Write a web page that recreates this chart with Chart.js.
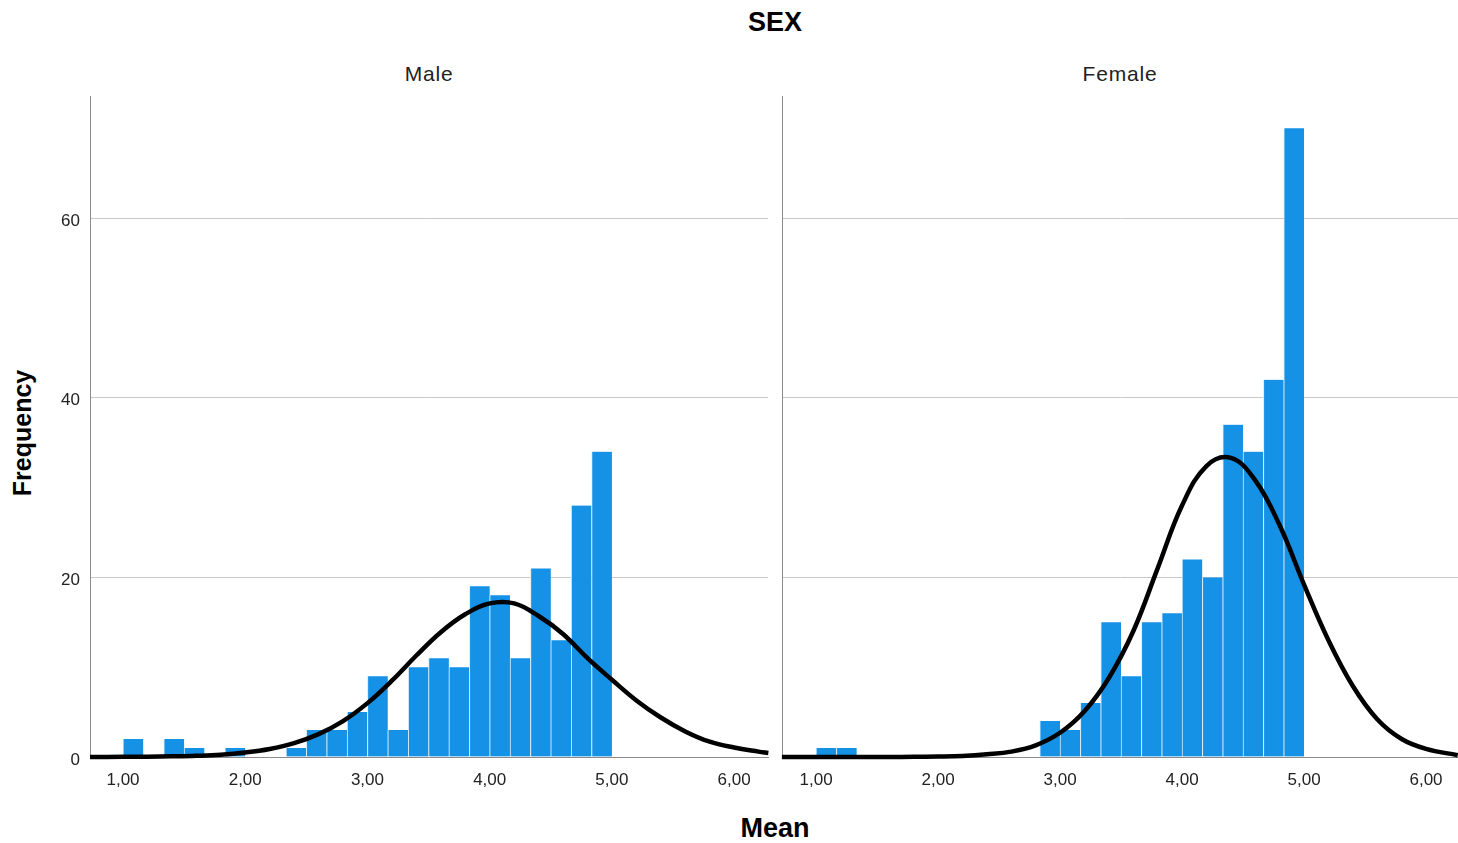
<!DOCTYPE html>
<html>
<head>
<meta charset="utf-8">
<script src="https://cdn.jsdelivr.net/npm/chart.js@4.4.1/dist/chart.umd.min.js"></script>
<style>
  body { margin: 0; background: #fff; width: 1458px; height: 843px; position: relative; overflow: hidden; font-family: "Liberation Sans", Arial, sans-serif; }
  canvas { position: absolute; top: 0; }
  .lbl { position: absolute; transform: translate(-50%, -50%); white-space: nowrap; color: #000; }
</style>
</head>
<body>
<div class="lbl" style="left:775px; top:22px; font-size:27px; font-weight:bold;">SEX</div>
<div class="lbl" style="left:429px; top:74px; font-size:21px; letter-spacing:0.8px; color:#222;">Male</div>
<div class="lbl" style="left:1120px; top:74px; font-size:21px; letter-spacing:0.8px; color:#222;">Female</div>
<div class="lbl" style="left:22px; top:433px; font-size:25px; font-weight:bold; transform: translate(-50%, -50%) rotate(-90deg);">Frequency</div>
<div class="lbl" style="left:775px; top:828px; font-size:27px; font-weight:bold;">Mean</div>

<canvas id="maleChart" width="776" height="800" style="left:0px;"></canvas>
<canvas id="femaleChart" width="686" height="800" style="left:772px;"></canvas>

<script>
// histogram bins (width 1/6), centres
const binCenters = [1.083, 1.25, 1.417, 1.583, 1.75, 1.917, 2.083, 2.25, 2.417, 2.583, 2.75, 2.917,
                    3.083, 3.25, 3.417, 3.583, 3.75, 3.917, 4.083, 4.25, 4.417, 4.583, 4.75, 4.917];
const maleCounts   = [2, 0, 2, 1, 0, 1, 0, 0, 1, 3, 3, 5, 9, 3, 10, 11, 10, 19, 18, 11, 21, 13, 28, 34];
const femaleCounts = [1, 1, 0, 0, 0, 0, 0, 0, 0, 0, 0, 4, 3, 6, 15, 9, 15, 16, 22, 20, 37, 34, 42, 70];

// normal curves
const maleCurveX = [0.73, 1.0, 1.2, 1.4, 1.6, 1.8, 2.0, 2.2, 2.4, 2.6, 2.8, 3.0, 3.2, 3.4, 3.6, 3.8, 4.0,
                    4.2, 4.4, 4.6, 4.8, 5.0, 5.2, 5.4, 5.6, 5.8, 6.0, 6.2, 6.28];
const maleCurveY = [0, 0.02, 0.04, 0.07, 0.13, 0.25, 0.5, 0.9, 1.55, 2.55, 4.0, 6.0, 8.5, 11.3, 13.9, 15.9, 17.1,
                    17.1, 15.7, 13.7, 11.0, 8.6, 6.3, 4.4, 2.85, 1.7, 1.05, 0.6, 0.45];
const femaleCurveX = [0.72, 1.2, 1.6, 1.8, 2.0, 2.2, 2.4, 2.6, 2.8, 3.0, 3.2, 3.4, 3.6, 3.8, 4.0, 4.2,
                      4.4, 4.6, 4.8, 5.0, 5.2, 5.4, 5.6, 5.8, 6.0, 6.26];
const femaleCurveY = [0, 0, 0, 0.02, 0.05, 0.12, 0.3, 0.6, 1.3, 2.7, 5.1, 8.8, 14.0, 21.0, 28.0, 32.4,
                      33.3, 30.8, 25.8, 19.2, 13.0, 7.9, 4.2, 2.0, 0.9, 0.2];

const xTicks = [1, 2, 3, 4, 5, 6];
const yTicks = [0, 20, 40, 60];

const fonte = "'Liberation Sans', Arial, sans-serif";

function criarPainel(id, counts, curveX, curveY, comEixoY, xMin, xMax) {
  const ctx = document.getElementById(id).getContext("2d");
  return new Chart(ctx, {
    type: "bar",
    data: {
      datasets: [
        {
          type: "line",
          data: curveX.map((x, i) => ({ x, y: curveY[i] })),
          borderColor: "#000",
          borderWidth: 4.5,
          pointRadius: 0,
          tension: 0.4,
          clip: 6,
          order: 1,
        },
        {
          data: binCenters.map((x, i) => ({ x, y: counts[i] })),
          backgroundColor: "#1591e6",
          borderColor: "#d6ebfa",
          borderWidth: { left: 1, right: 0, top: 0, bottom: 0 },
          borderSkipped: false,
          barPercentage: 1,
          categoryPercentage: 1,
          order: 2,
        },
      ],
    },
    options: {
      responsive: false,
      animation: false,
      devicePixelRatio: 1,
      layout: { padding: { top: 96, right: comEixoY ? 8 : 0, left: 0, bottom: 0 } },
      plugins: { legend: { display: false }, tooltip: { enabled: false } },
      scales: {
        x: {
          type: "linear",
          min: xMin,
          max: xMax,
          offset: false,
          afterBuildTicks: (axis) => { axis.ticks = xTicks.map((v) => ({ value: v })); },
          afterFit: (axis) => { axis.height = 43; },
          grid: { display: false, offset: false },
          border: { display: true, color: "#8c8c8c", width: 1 },
          ticks: {
            padding: 5,
            color: "#222",
            maxRotation: 0,
            font: { family: fonte, size: 17 },
            callback: (v) => v.toFixed(2).replace(".", ","),
          },
        },
        y: {
          min: 0,
          max: 73.6,
          afterBuildTicks: (axis) => { axis.ticks = yTicks.map((v) => ({ value: v })); },
          afterFit: (axis) => { axis.width = comEixoY ? 90 : 10; },
          grid: {
            drawTicks: false,
            color: (c) => (c.tick && c.tick.value === 0 ? "rgba(0,0,0,0)" : "#c8c8c8"),
            lineWidth: 1,
          },
          border: { display: true, color: "#8c8c8c", width: 1 },
          ticks: {
            display: comEixoY,
            padding: 10,
            labelOffset: 3,
            color: "#222",
            font: { family: fonte, size: 17 },
          },
        },
      },
    },
  });
}

document.addEventListener("DOMContentLoaded", () => {
  criarPainel("maleChart", maleCounts, maleCurveX, maleCurveY, true, 0.73, 6.277);
  criarPainel("femaleChart", femaleCounts, femaleCurveX, femaleCurveY, false, 0.721, 6.262);
});
</script>
</body>
</html>
